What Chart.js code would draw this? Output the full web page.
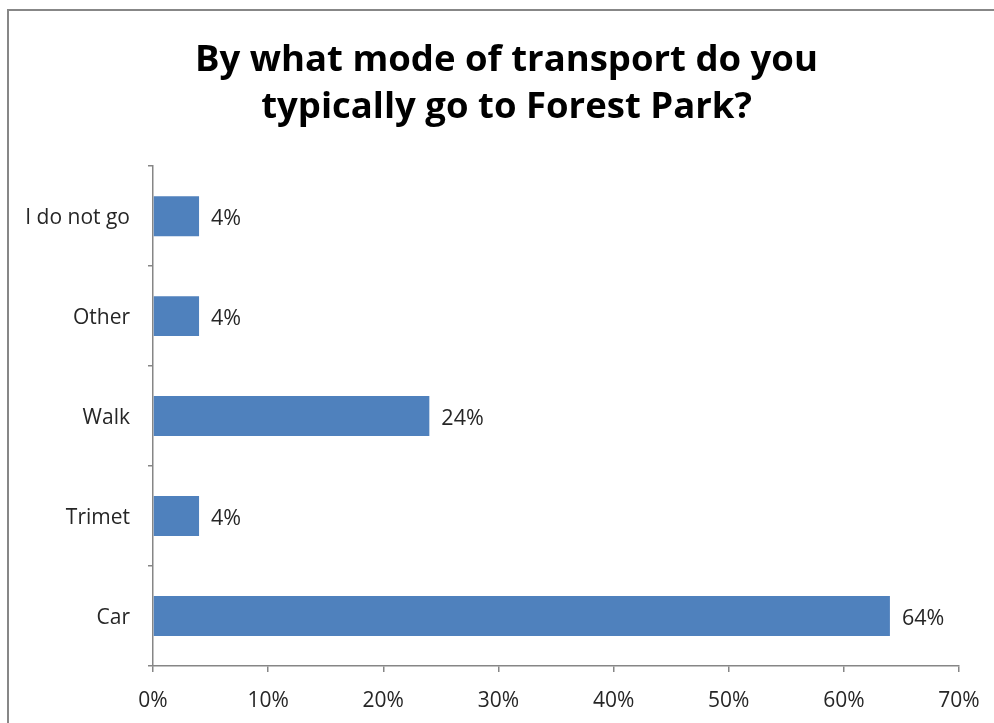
<!DOCTYPE html>
<html>
<head>
<meta charset="utf-8">
<script src="https://cdn.jsdelivr.net/npm/chart.js@4"></script>
<style>
  html, body { margin: 0; padding: 0; background: #fff; }
  #wrap { position: relative; width: 994px; height: 723px; overflow: hidden; }
  /* outer frame of the chart, only top and left edges show */
  #frame {
    position: absolute; left: 7px; top: 9px; width: 1100px; height: 900px;
    border-top: 2px solid #878787; border-left: 2px solid #878787;
  }
  #chart { position: absolute; left: 0; top: 0; }
</style>
</head>
<body>
<div id="wrap">
  <div id="frame"></div>
  <canvas id="chart" width="994" height="723"></canvas>
</div>
<script>
// survey answers
const modes = ['I do not go', 'Other', 'Walk', 'Trimet', 'Car'];
const shares = [4, 4, 24, 4, 64];
const xTicks = [0, 10, 20, 30, 40, 50, 60, 70];

const FONT = '"Open Sans", Lato, sans-serif';
const AXIS_GRAY = '#868686';

// value labels to the right of each bar
const barLabels = {
    id: 'barLabels',
    afterDatasetsDraw(chart) {
        const ctx = chart.ctx;
        const meta = chart.getDatasetMeta(0);
        ctx.save();
        ctx.font = '21.5px ' + FONT;
        ctx.fillStyle = '#262626';
        ctx.textAlign = 'left';
        ctx.textBaseline = 'middle';
        meta.data.forEach((bar, i) => {
            ctx.fillText(shares[i] + '%', bar.x + 12, bar.y + 3);
        });
        ctx.restore();
    }
};

new Chart(document.getElementById('chart'), {
    type: 'bar',
    data: {
        labels: modes,
        datasets: [{
            data: shares,
            backgroundColor: '#4F81BD',
            barPercentage: 0.4,
            categoryPercentage: 1
        }]
    },
    options: {
        indexAxis: 'y',
        responsive: false,
        animation: false,
        layout: { padding: { left: 19, right: 0, top: 0, bottom: 0 } },
        plugins: {
            legend: { display: false },
            tooltip: { enabled: false },
            title: {
                display: true,
                text: ['By what mode of transport do you', 'typically go to Forest Park?'],
                color: '#000',
                font: { family: FONT, size: 36.5, weight: 'bold', lineHeight: 1.29 },
                padding: { top: 37, bottom: 35 }
            }
        },
        scales: {
            x: {
                min: 0,
                max: 70,
                afterBuildTicks(scale) {
                    scale.ticks = xTicks.map(v => ({ value: v }));
                },
                afterFit(scale) {
                    scale.height = 57;
                    scale.paddingRight = 35;
                },
                border: { color: AXIS_GRAY, width: 1.5 },
                grid: { drawOnChartArea: false, color: AXIS_GRAY, tickLength: 6, lineWidth: 1.5 },
                ticks: {
                    padding: 16,
                    color: '#262626',
                    font: { family: FONT, size: 21 },
                    callback: v => v + '%'
                }
            },
            y: {
                afterFit(scale) {
                    scale.width = 134;
                },
                border: { color: AXIS_GRAY, width: 1.5 },
                grid: { drawOnChartArea: false, color: AXIS_GRAY, tickLength: 5, lineWidth: 1.5 },
                ticks: {
                    padding: 18,
                    labelOffset: 2,
                    color: '#262626',
                    font: { family: FONT, size: 21 }
                }
            }
        }
    },
    plugins: [barLabels]
});
</script>
</body>
</html>
